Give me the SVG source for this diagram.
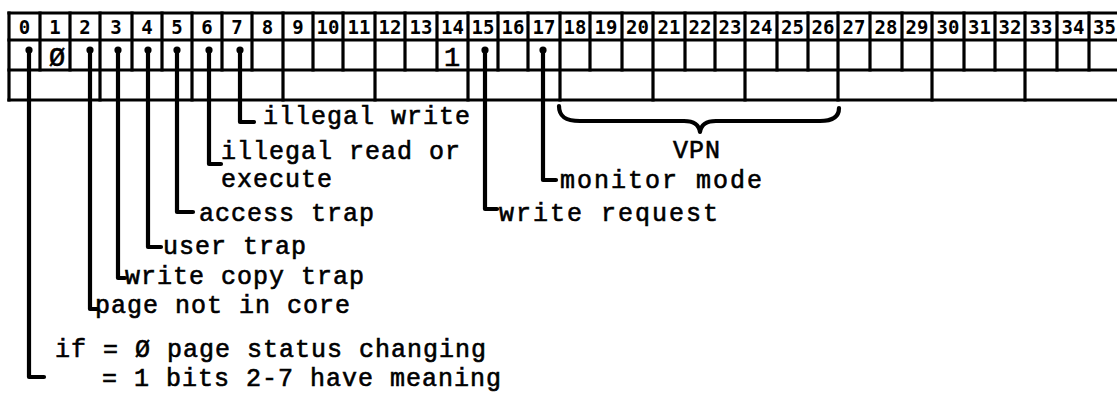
<svg xmlns="http://www.w3.org/2000/svg" width="1117" height="401" viewBox="0 0 1117 401">
<style>
.grid{stroke:#000;stroke-width:3.2;fill:none;stroke-linecap:square}
.hdr{font-family:"DejaVu Sans Mono","Liberation Mono",monospace;font-weight:bold;font-size:19px;text-anchor:middle;fill:#000}
.val{font-family:"Liberation Mono",monospace;font-size:27px;text-anchor:middle;fill:#000;stroke:#000;stroke-width:0.6}
.lbl{font-family:"Liberation Mono",monospace;font-size:25px;letter-spacing:1px;fill:#000;stroke:#000;stroke-width:0.6}
.wide{letter-spacing:2px}
.lead{stroke:#000;stroke-width:4.2;fill:none;stroke-linecap:round;stroke-linejoin:round}
.dot{fill:#000}
</style>
<rect width="1117" height="401" fill="#fff"/>
<g id="register">
  <path class="grid" d="M9,13 H1120 M9,40 H1120 M9,70 H1120 M9,100 H1120"/>
  <path class="grid" d="M9,13 V100 M40,13 V70 M70,13 V70 M100,13 V100 M132,13 V70 M162,13 V70 M192,13 V100 M222,13 V70 M252,13 V70 M283,13 V100 M313,13 V70 M343,13 V70 M375,13 V100 M405,13 V70 M437,13 V70 M468,13 V100 M498,13 V70 M528,13 V70 M560,13 V100 M590,13 V70 M622,13 V70 M653,13 V100 M685,13 V70 M715,13 V70 M745,13 V100 M777,13 V70 M808,13 V70 M838,13 V100 M870,13 V70 M902,13 V70 M932,13 V100 M964,13 V70 M995,13 V70 M1025,13 V100 M1057,13 V70 M1089,13 V70"/>
  <g class="hdr">
    <text x="24.5" y="34">0</text><text x="55" y="34">1</text><text x="85" y="34">2</text><text x="116" y="34">3</text>
    <text x="147" y="34">4</text><text x="177" y="34">5</text><text x="207" y="34">6</text><text x="237" y="34">7</text>
    <text x="267.5" y="34">8</text><text x="298" y="34">9</text><text x="328" y="34">10</text><text x="359" y="34">11</text>
    <text x="390" y="34">12</text><text x="421" y="34">13</text><text x="452.5" y="34">14</text><text x="483" y="34">15</text>
    <text x="513" y="34">16</text><text x="544" y="34">17</text><text x="575" y="34">18</text><text x="606" y="34">19</text>
    <text x="637.5" y="34">20</text><text x="669" y="34">21</text><text x="700" y="34">22</text><text x="730" y="34">23</text>
    <text x="761" y="34">24</text><text x="792.5" y="34">25</text><text x="823" y="34">26</text><text x="854" y="34">27</text>
    <text x="886" y="34">28</text><text x="917" y="34">29</text><text x="948" y="34">30</text><text x="979.5" y="34">31</text>
    <text x="1010" y="34">32</text><text x="1041" y="34">33</text><text x="1073" y="34">34</text><text x="1104.5" y="34">35</text>
  </g>
  <text class="val" x="57" y="66">Ø</text>
  <text class="val" x="452" y="66">1</text>
</g>
<g id="connectors">
  <path class="lead" d="M29,50 V377 H44"/>
  <path class="lead" d="M90,50 V309 H97"/>
  <path class="lead" d="M118,50 V278 H125"/>
  <path class="lead" d="M148,50 V247 H161"/>
  <path class="lead" d="M177,50 V212 H193"/>
  <path class="lead" d="M209,50 V164 H221"/>
  <path class="lead" d="M240,50 V122 H254"/>
  <path class="lead" d="M485,50 V209 H497"/>
  <path class="lead" d="M543,50 V180 H556"/>
  <g class="dot">
    <circle cx="29" cy="50" r="3.6"/><circle cx="90" cy="50" r="3.6"/><circle cx="118" cy="50" r="3.6"/>
    <circle cx="148" cy="50" r="3.6"/><circle cx="177" cy="50" r="3.6"/><circle cx="209" cy="50" r="3.6"/>
    <circle cx="240" cy="50" r="3.6"/><circle cx="485" cy="50" r="3.6"/><circle cx="543" cy="50" r="3.6"/>
  </g>
  <path class="lead" d="M559,106 C559,117 566,121 580,121 L684,121 C694,121 699,125 700,132 C701,125 706,121 716,121 L820,121 C832,121 839,117 839,108"/>
</g>
<g id="label-bit7"><text class="lbl" x="263" y="124">illegal write</text></g>
<g id="label-bit6"><text class="lbl" x="221" y="159">illegal read or</text><text class="lbl" x="221" y="187">execute</text></g>
<g id="label-bit5"><text class="lbl" x="199" y="221">access trap</text></g>
<g id="label-bit4"><text class="lbl" x="163" y="254">user trap</text></g>
<g id="label-bit3"><text class="lbl" x="125" y="284">write copy trap</text></g>
<g id="label-bit2"><text class="lbl" x="95" y="313">page not in core</text></g>
<g id="label-bit0"><text class="lbl" x="55" y="357">if = Ø page status changing</text><text class="lbl" x="102" y="386">= 1 bits 2-7 have meaning</text></g>
<g id="label-bit15"><text class="lbl wide" x="499" y="221">write request</text></g>
<g id="label-bit17"><text class="lbl wide" x="560" y="188">monitor mode</text></g>
<g id="label-vpn"><text class="lbl" x="697" y="158" text-anchor="middle">VPN</text></g>
</svg>
